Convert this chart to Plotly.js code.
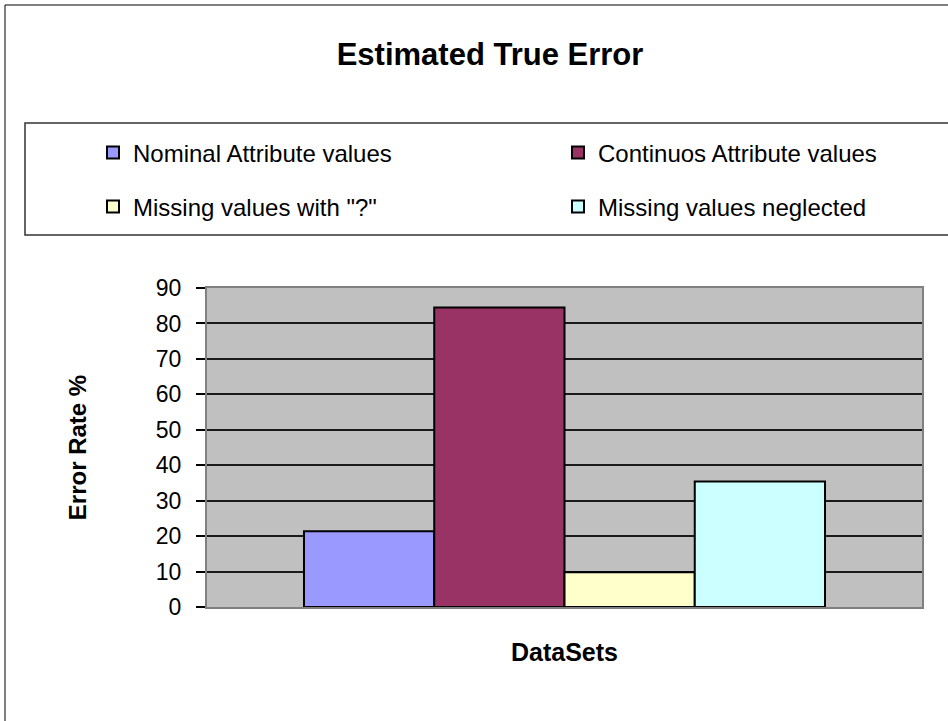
<!DOCTYPE html>
<html>
<head>
<meta charset="utf-8">
<script src="https://cdn.plot.ly/plotly-3.0.1.min.js"></script>
<style>
  html, body { margin: 0; padding: 0; background: #fff; overflow: hidden; }
  #chart { width: 948px; height: 721px; }
</style>
</head>
<body>
<div id="chart"></div>
<script>
// ---- data ----
const categories = ['DataSets'];
const seriesNames = ['Nominal Attribute values', 'Continuos Attribute values', 'Missing values with "?"', 'Missing values neglected'];
const nominalValues = [21.4];
const continuousValues = [84.5];
const missingQuestionValues = [9.8];
const missingNeglectedValues = [35.4];
const yTickValues = [0, 10, 20, 30, 40, 50, 60, 70, 80, 90];
const yTickLabels = ['0', '10', '20', '30', '40', '50', '60', '70', '80', '90'];

// ---- styles ----
const colors = ['#9999FF', '#993366', '#FFFFCC', '#CCFFFF'];
const legendIds = ['legend', 'legend2', 'legend3', 'legend4'];
const seriesValues = [nominalValues, continuousValues, missingQuestionValues, missingNeglectedValues];
const FONT = 'Liberation Sans, Arial, sans-serif';

const traces = seriesNames.map((name, i) => ({
  type: 'bar',
  name: name,
  x: categories,
  y: seriesValues[i],
  legend: legendIds[i],
  marker: { color: colors[i], line: { color: '#000000', width: 2 } },
  hoverinfo: 'skip'
}));

// plot area in px: left 207, right 922, top 288, bottom 607
const PL = 207, PR = 922, PT = 288, PB = 607;
const px2x = p => (p - PL) / (PR - PL);
const px2y = p => (PB - p) / (PB - PT);

function legendAt(xPx, yPx) {
  return {
    orientation: 'h',
    xanchor: 'left',
    yanchor: 'middle',
    x: px2x(xPx),
    y: px2y(yPx),
    bgcolor: 'rgba(0,0,0,0)',
    borderwidth: 0,
    font: { family: FONT, size: 24, color: '#000' },
    itemwidth: 30,
    itemclick: false,
    itemdoubleclick: false
  };
}

const layout = {
  width: 948,
  height: 721,
  autosize: false,
  margin: { l: PL, r: 948 - PR, t: PT, b: 721 - PB, pad: 0 },
  paper_bgcolor: '#ffffff',
  plot_bgcolor: '#C0C0C0',
  font: { family: FONT, color: '#000' },
  title: {
    text: 'Estimated True Error',
    font: { family: FONT, size: 31, weight: 'bold', color: '#000' },
    x: 490 / 948,
    xanchor: 'center',
    y: 1 - 54 / 721,
    yanchor: 'middle'
  },
  barmode: 'group',
  bargap: 0.2713,
  bargroupgap: 0,
  showlegend: true,
  legend: legendAt(93, 153),
  legend2: legendAt(558, 153),
  legend3: legendAt(93, 207),
  legend4: legendAt(558, 207),
  xaxis: {
    type: 'category',
    showticklabels: false,
    ticks: '',
    showgrid: false,
    showline: true,
    linecolor: '#808080',
    linewidth: 2,
    mirror: true,
    fixedrange: true,
    title: {
      text: 'DataSets',
      font: { family: FONT, size: 25, weight: 'bold', color: '#000' },
      standoff: 35
    }
  },
  yaxis: {
    range: [0, 90],
    tickvals: yTickValues,
    ticktext: yTickLabels,
    ticks: 'outside',
    ticklen: 9,
    tickwidth: 1.5,
    tickcolor: '#000',
    ticklabelstandoff: 10,
    tickfont: { family: FONT, size: 23, color: '#000' },
    showgrid: true,
    gridcolor: '#1a1a1a',
    gridwidth: 1.5,
    zeroline: false,
    showline: true,
    linecolor: '#808080',
    linewidth: 2,
    mirror: true,
    fixedrange: true,
    title: {
      text: 'Error Rate %',
      font: { family: FONT, size: 24, weight: 'bold', color: '#000' },
      standoff: 62
    }
  },
  shapes: [
    // outer chart frame
    { type: 'rect', xref: 'paper', yref: 'paper', x0: px2x(5), x1: px2x(990), y0: px2y(740), y1: px2y(5),
      line: { color: '#000', width: 1 }, fillcolor: 'rgba(0,0,0,0)', layer: 'above' },
    // legend frame
    { type: 'rect', xref: 'paper', yref: 'paper', x0: px2x(25), x1: px2x(990), y0: px2y(235), y1: px2y(123),
      line: { color: '#333', width: 1.5 }, fillcolor: 'rgba(0,0,0,0)', layer: 'above' }
  ]
};

Plotly.newPlot('chart', traces, layout, { displayModeBar: false, responsive: false });
</script>
</body>
</html>
